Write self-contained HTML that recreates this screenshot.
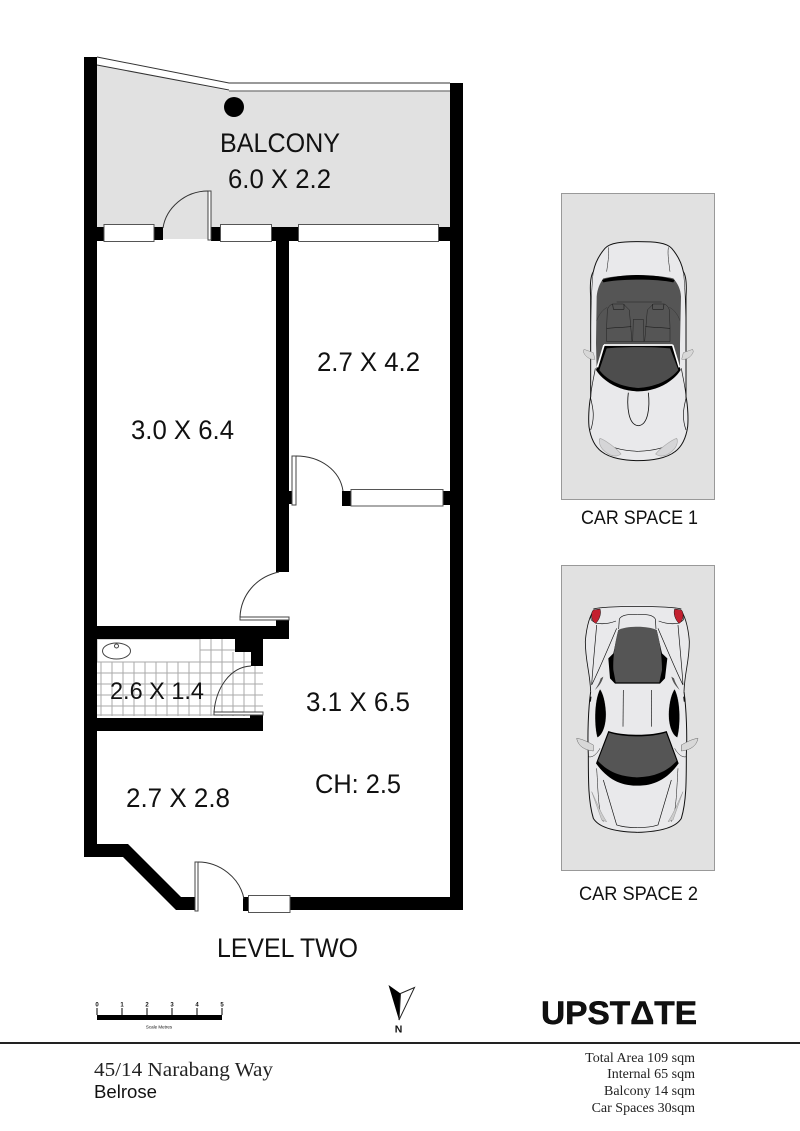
<!DOCTYPE html>
<html><head><meta charset="utf-8"><style>
html,body{margin:0;padding:0;background:#fff}
svg{display:block}
text{font-family:"Liberation Sans",sans-serif;fill:#111}
.s{font-family:"Liberation Serif",serif;fill:#222}
</style></head><body>
<svg width="800" height="1131" viewBox="0 0 800 1131" xmlns="http://www.w3.org/2000/svg">
<defs>
<g id="c1h" fill="none" stroke="#111" stroke-width="2.500">
<path d="M145,52C148,75 143,100 140,125" stroke-width="1.500"/>
<path d="M100,125C95,160 92,250 92,340" stroke-width="1.500"/>
<path d="M106,415C100,450 92,480 92,505C98,530 106,560 92,600" stroke-width="2"/>
<path d="M205,488C200,530 205,585 235,587"/>
<path d="M118,628C150,655 190,662 235,664" stroke-width="2"/>
<path d="M120,625C135,630 170,655 183,672C165,685 145,675 130,660C120,650 115,635 120,625Z" fill="#d5d5d7" stroke="#aaa" stroke-width="2"/>
<path d="M72,358L100,368L105,388C90,390 75,380 70,365Z" fill="#d8d8d8" stroke="#888" stroke-width="1.500"/>
<path d="M110,272C118,250 130,238 142,232" stroke="#333" stroke-width="1.500"/>
<path d="M140,290L142,240C145,228 155,222 158,222L190,222L208,240L216,335L140,335Z" fill="#555" stroke="#222" stroke-width="1.500"/>
<path d="M140,295L214,290" stroke-width="1.500"/>
<path d="M158,222L160,238L192,238L192,222" stroke-width="1.500"/>
</g>
<g id="c2h" fill="none" stroke="#111" stroke-width="2.500">
<path d="M100,48C85,70 78,110 76,140C76,200 90,230 92,290"/>
<path d="M100,48C80,80 105,80 110,85C130,88 150,85 168,78" stroke-width="2"/>
<path d="M110,90C105,150 98,220 95,270C115,230 140,170 170,100" stroke-width="2"/>
<path d="M178,72C185,60 200,58 232,58" stroke-width="2"/>
<path d="M178,72L176,102" stroke-width="2"/>
<path d="M105,285C115,275 125,265 130,245L122,250C118,265 110,275 105,285Z" fill="#555" stroke="none"/>
<path d="M120,282C100,320 103,400 112,428C128,420 140,390 138,350C136,320 130,295 120,282Z" fill="#000" stroke="#fff" stroke-width="1"/>
<path d="M92,305L90,320" stroke-width="5"/>
<path d="M190,285L189,395" stroke-width="2"/>
<path d="M92,290C85,340 82,420 85,480C85,560 85,620 100,670C115,695 160,710 232,712" stroke-width="3"/>
<path d="M85,485C100,490 115,470 120,460" stroke-width="1.500"/>
<path d="M110,520C115,600 115,650 130,680" stroke-width="1.500"/>
<path d="M130,555L170,690C190,697 210,698 232,698" stroke-width="2"/>
<path d="M95,590L125,675L140,680C120,650 110,620 95,590Z" fill="#ccc" stroke="#777" stroke-width="1"/>
<path d="M50,430C70,432 90,445 100,450L100,468C75,465 55,455 50,430Z" fill="#d8d8d8" stroke="#666" stroke-width="1.500"/>
<path d="M100,45L120,42C125,55 118,75 107,85C95,80 90,55 100,45Z" fill="#c3202f" stroke="#111" stroke-width="1.500"/>
</g>
</defs>

<!-- balcony -->
<path d="M96,65L229,91L451,91L451,228L96,228Z" fill="#e1e1e1"/>
<path d="M97,57L229,83L450,83" fill="none" stroke="#333" stroke-width="1"/>
<path d="M97,65L229,90" fill="none" stroke="#333" stroke-width="1"/>
<path d="M229,91L450,91" fill="none" stroke="#888" stroke-width="1.500"/>
<circle cx="234" cy="107" r="10" fill="#000"/>
<rect x="163" y="226" width="46" height="13" fill="#e1e1e1"/>

<!-- tiles -->
<rect x="97" y="639" width="166" height="77" fill="#fff"/>
<path stroke="#aaa" stroke-width="1" fill="none" d="M101,662V716M112,662V716M123,662V716M134,662V716M145,662V716M156,662V716M167,662V716M178,662V716M189,662V716M200,639V716M211,639V716M222,639V716M233,652V716M244,652V716M255,652V716M97,673H263M97,684H263M97,695H263M97,706H263M97,715H263M97,662H263M200,650H240"/>
<rect x="97" y="639" width="103" height="23" fill="#fff" stroke="#aaa" stroke-width="1"/>
<ellipse cx="116.500" cy="651" rx="14" ry="8" fill="#fff" stroke="#444" stroke-width="1"/>
<circle cx="116.500" cy="646" r="2" fill="#fff" stroke="#444" stroke-width="1"/>

<!-- walls -->
<g fill="#000">
<rect x="84" y="57" width="13" height="800"/>
<rect x="450" y="83" width="13" height="827"/>
<rect x="97" y="227" width="8" height="14"/>
<rect x="154" y="227" width="9" height="13"/>
<rect x="211" y="227" width="10" height="14"/>
<rect x="270" y="227" width="29" height="14"/>
<rect x="438" y="227" width="13" height="14"/>
<rect x="276" y="240" width="13" height="332"/>
<rect x="289" y="491" width="3" height="13"/>
<rect x="342" y="491" width="9" height="15"/>
<rect x="442" y="491" width="9" height="14"/>
<rect x="97" y="626" width="192" height="13"/>
<rect x="276" y="620" width="13" height="19"/>
<path d="M235,639H263V666H251V652H235Z"/>
<rect x="250" y="715" width="13" height="5"/>
<rect x="97" y="718" width="166" height="13"/>
<path d="M84,844H128L181,897H195V910H176L123,857H84Z"/>
<rect x="243" y="897" width="6" height="14"/>
<rect x="289" y="897" width="163" height="13"/>
</g>

<!-- windows -->
<g fill="#fff" stroke="#555" stroke-width="1">
<rect x="104" y="224.500" width="50" height="17"/>
<rect x="220.500" y="224.500" width="51" height="17"/>
<rect x="298.500" y="224.500" width="140" height="17"/>
<rect x="351" y="489.500" width="92" height="16.500"/>
<rect x="248.500" y="895.500" width="41.500" height="17"/>
</g>

<!-- doors -->
<g fill="#fff" stroke="#444" stroke-width="1">
<rect x="208" y="191" width="3" height="49"/>
<rect x="292" y="456" width="4" height="49"/>
<rect x="240" y="617" width="49" height="3"/>
<rect x="214" y="712" width="49" height="3"/>
<rect x="195" y="862" width="3" height="49"/>
</g>
<g fill="none" stroke="#333" stroke-width="1">
<path d="M163,228C166,208 185,191 208,191"/>
<path d="M296,456C320,456 340,470 343,491"/>
<path d="M279,572C256,577 241,595 240,617"/>
<path d="M251,666C230,667 216,688 214,712"/>
<path d="M198,862C220,862 240,878 244,899"/>
</g>

<!-- room labels -->
<g font-size="26.500">
<text x="220" y="152" textLength="120" lengthAdjust="spacingAndGlyphs">BALCONY</text>
<text x="228" y="188" textLength="103" lengthAdjust="spacingAndGlyphs">6.0 X 2.2</text>
<text x="131" y="439" textLength="103" lengthAdjust="spacingAndGlyphs">3.0 X 6.4</text>
<text x="317" y="371" textLength="103" lengthAdjust="spacingAndGlyphs">2.7 X 4.2</text>
<text x="110" y="699" textLength="94" lengthAdjust="spacingAndGlyphs" font-size="24">2.6 X 1.4</text>
<text x="306" y="711" textLength="104" lengthAdjust="spacingAndGlyphs">3.1 X 6.5</text>
<text x="315" y="793" textLength="86" lengthAdjust="spacingAndGlyphs">CH: 2.5</text>
<text x="126" y="807" textLength="104" lengthAdjust="spacingAndGlyphs">2.7 X 2.8</text>
<text x="217" y="957" textLength="141" lengthAdjust="spacingAndGlyphs">LEVEL TWO</text>
</g>

<!-- car space 1 -->
<rect x="561.500" y="193.500" width="153" height="306" fill="#e1e1e1" stroke="#999" stroke-width="1"/>
<g transform="translate(560 230) scale(.33333)">
<path d="M235,35C185,35 150,38 135,55C115,78 105,100 100,125C90,140 90,170 92,200L92,500C86,530 85,570 87,590C92,625 105,650 125,665C150,685 195,692 235,692C275,692 320,685 345,665C365,650 378,625 383,590C385,570 384,530 378,500L378,200C380,170 380,140 370,125C365,100 355,78 335,55C320,38 285,35 235,35Z" fill="#e9e9eb" stroke="#111" stroke-width="3"/>
<path d="M110,200C112,175 120,160 130,145C180,133 290,133 340,145C352,160 362,175 363,200L360,340L360,420L110,420L108,340Z" fill="#555"/>
<path d="M126,150C180,130 290,130 344,150L340,157C290,146 180,146 130,157Z" fill="#000"/>
<use href="#c1h"/><use href="#c1h" transform="matrix(-1 0 0 1 470 0)"/>
<path d="M220,268H250L252,335H218Z" fill="#555" stroke="#222" stroke-width="1.500"/>
<path d="M170,216H305" stroke="#222" stroke-width="1.500" fill="none"/>
<path d="M135,342H335L362,420C340,455 290,484 235,484C180,484 130,455 108,420Z" fill="#000"/>
<path d="M140,355C190,350 280,350 330,355L355,420C330,450 290,470 235,474C180,470 140,450 118,420Z" fill="#4d4d4d"/>
<path d="M132,345H338M132,345L112,412M338,345L358,412" stroke="#fff" stroke-width="5" fill="none"/>
</g>
<text x="581" y="524" font-size="19" textLength="117" lengthAdjust="spacingAndGlyphs">CAR SPACE 1</text>

<!-- car space 2 -->
<rect x="561.500" y="565.500" width="153" height="305" fill="#e1e1e1" stroke="#999" stroke-width="1"/>
<g transform="translate(560 595) scale(.33333)">
<path d="M232,28C180,28 130,35 100,48C85,70 78,110 76,140C76,200 90,230 92,290C85,340 82,420 85,480C85,560 85,620 100,670C115,695 160,712 232,712C304,712 349,695 364,670C379,620 379,560 379,480C382,420 379,340 372,290C374,230 388,200 388,140C386,110 379,70 364,48C334,35 284,28 232,28Z" fill="#e9e9eb"/>
<path d="M100,42C140,32 324,32 364,42" fill="none" stroke="#111" stroke-width="2.500"/>
<use href="#c2h"/><use href="#c2h" transform="matrix(-1 0 0 1 464 0)"/>
<path d="M175,105L160,175L145,190L150,250L165,266H300L315,250L322,190L306,175L290,105Z" fill="#000"/>
<path d="M175,105C200,92 265,92 290,105C300,140 306,190 306,225L298,262H167L160,225C158,190 165,140 175,105Z" fill="#555"/>
<path d="M145,408C190,423 275,423 320,408L356,505C320,555 280,572 232,572C184,572 144,555 108,505Z" fill="#000"/>
<path d="M147,413C190,428 275,428 318,413L350,498C320,530 285,545 232,547C179,545 144,530 114,498Z" fill="#555"/>
</g>
<text x="579" y="900" font-size="19" textLength="119" lengthAdjust="spacingAndGlyphs">CAR SPACE 2</text>

<!-- scale bar -->
<rect x="97" y="1015" width="125" height="5" fill="#000"/>
<path d="M97,1008V1015M122,1008V1015M147,1008V1015M172,1008V1015M197,1008V1015M222,1008V1015" stroke="#000" stroke-width="1"/>
<g font-size="6" text-anchor="middle" font-weight="bold">
<text x="97" y="1006.500">0</text><text x="122" y="1006.500">1</text><text x="147" y="1006.500">2</text><text x="172" y="1006.500">3</text><text x="197" y="1006.500">4</text><text x="222" y="1006.500">5</text>
</g>
<text x="159" y="1028.500" font-size="4.500" text-anchor="middle" fill="#444">Scale Metres</text>

<!-- north -->
<path d="M388.500,985L400.500,993.500L399,1020Z" fill="#000"/>
<path d="M400.500,993.500L414.500,987.500L399,1020Z" fill="#fff" stroke="#222" stroke-width="1"/>
<text x="398.500" y="1032.500" font-size="10.500" font-weight="bold" text-anchor="middle">N</text>

<!-- logo -->
<text x="541" y="1024" font-size="32" font-weight="bold" stroke="#000" stroke-width=".5" fill="#000" textLength="156" lengthAdjust="spacingAndGlyphs">UPSTΔTE</text>

<!-- footer -->
<rect x="0" y="1042" width="800" height="2" fill="#222"/>
<text class="s" x="94" y="1076" font-size="20" textLength="179" lengthAdjust="spacingAndGlyphs">45/14 Narabang Way</text>
<text x="94" y="1098" font-size="18" textLength="63" lengthAdjust="spacingAndGlyphs">Belrose</text>
<g font-size="14" text-anchor="end">
<text class="s" x="695" y="1062">Total Area 109 sqm</text>
<text class="s" x="695" y="1078">Internal 65 sqm</text>
<text class="s" x="695" y="1095">Balcony 14 sqm</text>
<text class="s" x="695" y="1112">Car Spaces 30sqm</text>
</g>
</svg>
</body></html>
